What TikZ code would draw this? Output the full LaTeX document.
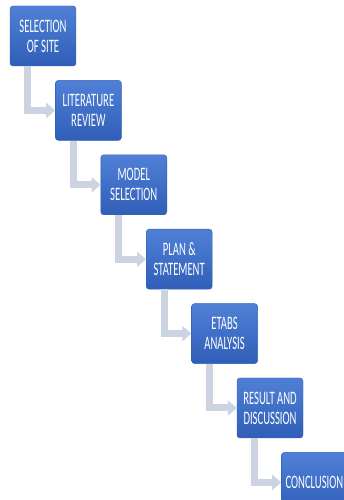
\documentclass[tikz,border=0pt]{standalone}
\usepackage{fontspec}
\newfontfamily\stepfont[FakeStretch=0.56]{Carlito}
\usepackage{tikz}
\usetikzlibrary{arrows.meta,positioning}
\definecolor{stepblue}{RGB}{62,108,196}
\definecolor{steptop}{RGB}{80,128,214}
\definecolor{stepbot}{RGB}{48,94,184}
\definecolor{linkgray}{RGB}{204,212,226}
\tikzset{
    stepbox/.style={
        rounded corners=3pt,
        draw=stepbot,
        top color=steptop,
        bottom color=stepbot,
        minimum width=66pt,
        minimum height=60pt,
        inner sep=1pt,
        align=center,
        text=white,
        font=\stepfont\fontsize{19}{20}\selectfont
    },
    flowlink/.style={
        draw=linkgray,
        line width=7pt,
        -{Triangle[width=15pt,length=9pt]}
    }
}

\begin{document}
\begin{tikzpicture}
    \clip (0pt,0pt) rectangle (344pt,500pt);
    \fill[white] (0pt,0pt) rectangle (344pt,500pt);

    % staircase of steps
    \node[stepbox] (site) at (43pt,464pt) {SELECTION\\OF SITE};
    \node[stepbox, below right=14pt and -21pt of site] (litrev) {LITERATURE\\REVIEW};
    \node[stepbox, below right=14pt and -21pt of litrev] (model) {MODEL\\SELECTION};
    \node[stepbox, below right=14pt and -21pt of model] (plan) {PLAN \&\\STATEMENT};
    \node[stepbox, below right=14pt and -21pt of plan] (etabs) {ETABS\\ANALYSIS};
    \node[stepbox, below right=14pt and -21pt of etabs] (result) {RESULT AND\\DISCUSSION};
    \node[stepbox, below right=14pt and -22pt of result] (concl) {CONCLUSION};

    % elbow arrows
    \foreach \from/\to in {site/litrev,litrev/model,model/plan,plan/etabs,etabs/result,result/concl}
        \draw[flowlink] ([xshift=18pt]\from.south west) |- (\to.west);
\end{tikzpicture}
\end{document}
